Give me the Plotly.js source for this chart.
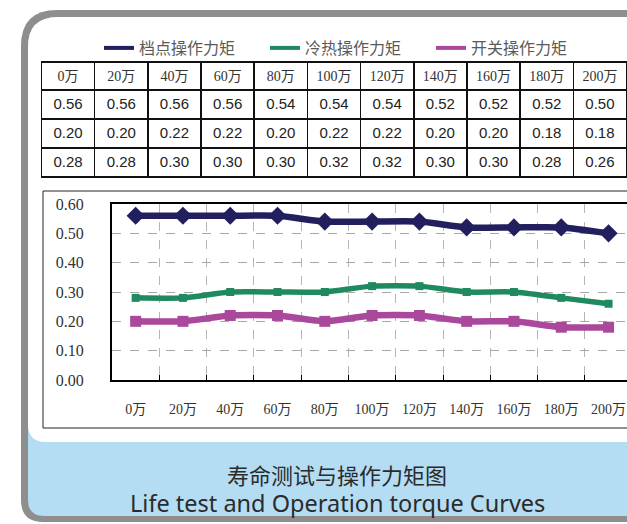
<!DOCTYPE html>
<html><head><meta charset="utf-8">
<script src="https://cdn.plot.ly/plotly-3.0.1.min.js"></script>
<style>html,body{margin:0;padding:0;background:#fff}#chart{width:627px;height:524px}</style>
</head><body><div id="chart"></div>
<script>
// ---- data ----
const categories = ['0万','20万','40万','60万','80万','100万','120万','140万','160万','180万','200万'];
const seriesNames = ['档点操作力矩','冷热操作力矩','开关操作力矩'];
const detentTorque  = [0.56,0.56,0.56,0.56,0.54,0.54,0.54,0.52,0.52,0.52,0.50];
const thermalTorque = [0.28,0.28,0.30,0.30,0.30,0.32,0.32,0.30,0.30,0.28,0.26];
const switchTorque  = [0.20,0.20,0.22,0.22,0.20,0.22,0.22,0.20,0.20,0.18,0.18];
const captionCn = '寿命测试与操作力矩图';
const captionEn = 'Life test and Operation torque Curves';

// ---- styles ----
const W = 627, H = 524;
const px = x => x / W;
const py = y => 1 - y / H;
const colors = ['#221f5e', '#1f8a60', '#aa489b'];
const series = [detentTorque, thermalTorque, switchTorque];
const symbols = ['diamond', 'square', 'square'];
const msizes = [14, 8, 11];
const lwidths = [6.5, 5.5, 6.5];

function roundPath(x0, y0, x1, y1, rTL, rBL) {
  const P = (x, y) => px(x).toFixed(5) + ',' + py(y).toFixed(5);
  return 'M' + P(x0, y0 + rTL) + ' Q' + P(x0, y0) + ' ' + P(x0 + rTL, y0) +
    ' L' + P(x1, y0) + ' L' + P(x1, y1) + ' L' + P(x0 + rBL, y1) +
    ' Q' + P(x0, y1) + ' ' + P(x0, y1 - rBL) + ' Z';
}

const traces = [];
series.forEach((vals, i) => {
  traces.push({
    type: 'scatter', mode: 'lines+markers', x: categories, y: vals,
    name: seriesNames[i], showlegend: false,
    line: {color: colors[i], width: lwidths[i], shape: 'spline', smoothing: 0.6},
    marker: {symbol: symbols[i], size: msizes[i], color: colors[i]},
    hoverinfo: 'skip'
  });
});
// legend entries (lines only)
series.forEach((vals, i) => {
  traces.push({
    type: 'scatter', mode: 'lines', x: [null], y: [null], name: seriesNames[i],
    line: {color: colors[i], width: 4}, showlegend: true
  });
});
// table: rows in order detent, switch, thermal
const tableRows = [detentTorque, switchTorque, thermalTorque];
traces.push({
  type: 'table',
  domain: {x: [px(41.5), 1], y: [py(180), py(62)]},
  columnwidth: categories.map(() => 1),
  header: {
    values: categories, height: 28, align: 'center',
    fill: {color: '#ffffff'}, line: {color: '#111', width: 1.5},
    font: {family: 'Liberation Serif, Noto Sans CJK SC', size: 14, color: '#333'}
  },
  cells: {
    values: categories.map((c, j) => tableRows.map(r => r[j])),
    format: categories.map(() => '.2f'),
    height: 29, align: 'center',
    fill: {color: '#ffffff'}, line: {color: '#111', width: 1.5},
    font: {family: 'Liberation Sans, Arial', size: 15, color: '#222'}
  }
});

const layout = {
  width: W, height: H,
  margin: {l: 0, r: 0, t: 0, b: 0},
  paper_bgcolor: '#ffffff', plot_bgcolor: 'rgba(0,0,0,0)',
  showlegend: true,
  legend: {
    orientation: 'h', x: px(99), xanchor: 'left', y: py(48), yanchor: 'middle',
    entrywidth: 121, entrywidthmode: 'pixels', bgcolor: 'rgba(0,0,0,0)',
    font: {family: 'Noto Sans CJK SC', size: 16, color: '#5a5a5a'}
  },
  xaxis: {
    domain: [px(112), 1], type: 'category', range: [-0.5, 10.39],
    tickson: 'boundaries', ticks: 'inside', ticklen: 5, tickcolor: '#000',
    showgrid: true, gridcolor: '#b5b5b5', griddash: 'dash', gridwidth: 1,
    showline: true, linecolor: '#000', linewidth: 2, mirror: true,
    ticklabelstandoff: 15,
    tickfont: {family: 'Liberation Serif, Noto Sans CJK SC', size: 14, color: '#333'},
    fixedrange: true
  },
  yaxis: {
    domain: [py(380), py(204)], range: [0, 0.6], dtick: 0.1, tickformat: '.2f',
    showgrid: true, gridcolor: '#a8a8a8', griddash: 'dash', gridwidth: 1,
    zeroline: false, showline: true, linecolor: '#000', linewidth: 2,
    ticks: '', ticklabelstandoff: 23,
    tickfont: {family: 'Liberation Serif', size: 16, color: '#333'},
    fixedrange: true
  },
  shapes: [
    {type: 'path', xref: 'paper', yref: 'paper', layer: 'below',
     path: roundPath(21, 10, 680, 522, 36, 22), fillcolor: '#8e8e8e', line: {width: 0}},
    {type: 'path', xref: 'paper', yref: 'paper', layer: 'below',
     path: roundPath(28, 17, 680, 516, 30, 16), fillcolor: '#b4ddf4', line: {width: 0}},
    {type: 'path', xref: 'paper', yref: 'paper', layer: 'below',
     path: roundPath(28, 17, 680, 442, 30, 18), fillcolor: '#ffffff', line: {width: 0}},
    {type: 'rect', xref: 'paper', yref: 'paper', layer: 'below',
     x0: px(43), x1: px(700), y0: py(428), y1: py(191), line: {color: '#222', width: 1}}
  ],
  annotations: [
    {xref: 'paper', yref: 'paper', x: px(337), y: py(474), yanchor: 'middle', xanchor: 'center',
     text: captionCn, showarrow: false,
     font: {family: 'Noto Sans CJK SC', size: 22, color: '#2b2b2b'}},
    {xref: 'paper', yref: 'paper', x: px(337), y: py(503), yanchor: 'middle', xanchor: 'center',
     text: captionEn, showarrow: false,
     font: {family: 'Noto Sans', size: 23.5, color: '#2b2b2b'}}
  ]
};

Plotly.newPlot('chart', traces, layout, {displayModeBar: false, staticPlot: true});
</script>
</body></html>
